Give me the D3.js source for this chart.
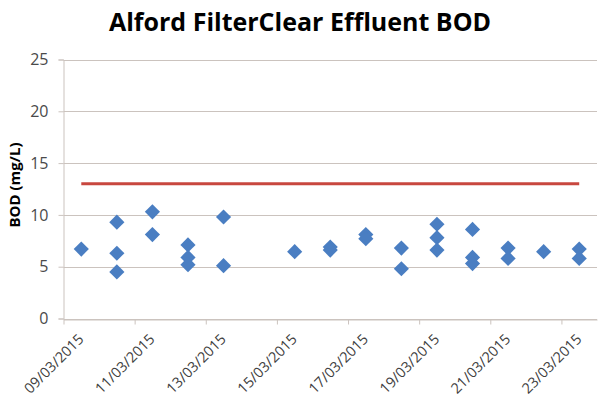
<!DOCTYPE html>
<html>
<head>
<meta charset="utf-8">
<script src="https://cdn.jsdelivr.net/npm/d3@7"></script>
<style>
  body { margin: 0; background: #fff; }
  svg { display: block; }
</style>
</head>
<body>
<div id="chart"></div>
<script>
// sample dates (one entry per BOD result)
var sampleDates = [
  "09/03/2015",
  "10/03/2015", "10/03/2015", "10/03/2015",
  "11/03/2015", "11/03/2015",
  "12/03/2015", "12/03/2015", "12/03/2015",
  "13/03/2015", "13/03/2015",
  "15/03/2015",
  "16/03/2015", "16/03/2015",
  "17/03/2015", "17/03/2015",
  "18/03/2015", "18/03/2015",
  "19/03/2015", "19/03/2015", "19/03/2015",
  "20/03/2015", "20/03/2015", "20/03/2015",
  "21/03/2015", "21/03/2015",
  "22/03/2015",
  "23/03/2015", "23/03/2015"
];
var bodValues = [
  6.7,
  9.3, 6.3, 4.5,
  10.3, 8.1,
  7.1, 5.9, 5.2,
  9.8, 5.1,
  6.45,
  6.9, 6.6,
  8.1, 7.7,
  6.8, 4.8,
  9.1, 7.8, 6.6,
  8.6, 5.9, 5.3,
  6.8, 5.8,
  6.45,
  6.7, 5.8
];
// consent limit line
var limitDates = ["09/03/2015", "23/03/2015"];
var limitValues = [13, 13];

var yTicks = [0, 5, 10, 15, 20, 25];
var xTickLabels = ["09/03/2015", "11/03/2015", "13/03/2015", "15/03/2015",
                   "17/03/2015", "19/03/2015", "21/03/2015", "23/03/2015"];
var xDomain = ["09/03/2015", "24/03/2015"];

var width = 598, height = 405;
var margin = {top: 59.5, right: 1, bottom: 86.5, left: 63.5};

var parse = d3.timeParse("%d/%m/%Y");
var fmt = d3.timeFormat("%d/%m/%Y");
// points sit mid-way between the day tick marks
var midDay = function(s) { return d3.timeHour.offset(parse(s), 12); };

var svg = d3.select("#chart").append("svg")
    .attr("width", width)
    .attr("height", height);

svg.append("rect")
    .attr("width", width)
    .attr("height", height)
    .attr("fill", "#fff");

var x = d3.scaleTime()
    .domain(xDomain.map(parse))
    .range([margin.left, width - margin.right]);

var y = d3.scaleLinear()
    .domain([0, 25])
    .range([height - margin.bottom, margin.top]);

var gridColor = "#cbc3be";
var textColor = "#4a4a4a";

// gridlines
svg.append("g")
    .selectAll("line")
    .data(yTicks)
  .enter().append("line")
    .attr("x1", margin.left)
    .attr("x2", width - margin.right)
    .attr("y1", function(d) { return Math.round(y(d)) + 0.5; })
    .attr("y2", function(d) { return Math.round(y(d)) + 0.5; })
    .attr("stroke", gridColor)
    .attr("stroke-width", 1);

// y axis
var yAxis = svg.append("g")
    .attr("transform", "translate(" + margin.left + ",0)")
    .call(d3.axisLeft(y).tickValues(yTicks).tickSize(5).tickPadding(10));
yAxis.select(".domain").attr("stroke", gridColor);
yAxis.selectAll(".tick line").attr("stroke", gridColor);
yAxis.selectAll(".tick text")
    .attr("fill", textColor)
    .style("font-family", "'Open Sans', sans-serif")
    .style("font-size", "16px");

// x axis
var xAxis = svg.append("g")
    .attr("transform", "translate(0," + (Math.round(y(0)) + 0.5) + ")")
    .call(d3.axisBottom(x)
      .tickValues(xTickLabels.map(parse))
      .tickFormat(fmt)
      .tickSize(5)
      .tickSizeOuter(0));
xAxis.select(".domain").attr("stroke", gridColor);
xAxis.selectAll(".tick line").attr("stroke", gridColor);
xAxis.selectAll(".tick text")
    .attr("fill", "#404040")
    .style("font-family", "'Open Sans', sans-serif")
    .style("font-size", "14.5px")
    .attr("text-anchor", "end")
    .attr("x", 0)
    .attr("y", 0)
    .attr("dy", "0.35em")
    .attr("transform", "translate(17,17) rotate(-45)");

// limit line
var limitLine = d3.line()
    .x(function(d) { return x(midDay(d.date)); })
    .y(function(d) { return y(d.value); });

svg.append("path")
    .datum(limitDates.map(function(d, i) { return {date: d, value: limitValues[i]}; }))
    .attr("d", limitLine)
    .attr("fill", "none")
    .attr("stroke", "#c8473f")
    .attr("stroke-width", 3);

// BOD results
var diamond = d3.symbol().type(d3.symbolSquare).size(115);

svg.append("g")
    .selectAll("path")
    .data(bodValues.map(function(v, i) { return {date: sampleDates[i], value: v}; }))
  .enter().append("path")
    .attr("d", diamond)
    .attr("transform", function(d) {
      return "translate(" + x(midDay(d.date)) + "," + y(d.value) + ") rotate(45)";
    })
    .attr("fill", "#4a7ec2");

// titles
svg.append("text")
    .attr("x", 300)
    .attr("y", 31)
    .attr("text-anchor", "middle")
    .style("font-family", "'Open Sans', sans-serif")
    .style("font-weight", "bold")
    .style("font-size", "25px")
    .attr("fill", "#000")
    .text("Alford FilterClear Effluent BOD");

svg.append("text")
    .attr("transform", "translate(20,185) rotate(-90)")
    .attr("text-anchor", "middle")
    .style("font-family", "'Open Sans', sans-serif")
    .style("font-weight", "bold")
    .style("font-size", "15px")
    .attr("fill", "#000")
    .text("BOD (mg/L)");
</script>
</body>
</html>
